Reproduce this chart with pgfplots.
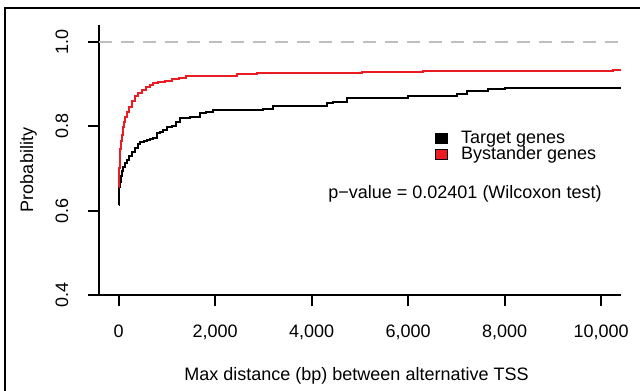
\documentclass[border=0pt]{standalone}
\usepackage{pgfplots}
\pgfplotsset{compat=1.18}
\usepackage{fontspec}
\setmainfont{Liberation Sans}
\definecolor{rred}{RGB}{235,28,36}
\definecolor{rgray}{RGB}{190,190,190}
\begin{document}
\fontsize{18bp}{21bp}\selectfont
\begin{tikzpicture}[x=1bp,y=1bp]
\useasboundingbox (0,0) rectangle (640,390);
\draw[line width=1.3bp] (5,-10) -- (5,382) -- (650,382);
\begin{axis}[
 at={(99bp,95bp)}, anchor=south west, scale only axis, width=522bp, height=270bp,
 xmin=-408, xmax=10410, ymin=0.4, ymax=1.04,
 scaled x ticks=false, scaled y ticks=false,
 axis lines*=left, axis line style={line width=2bp},
 tick align=outside, major tick length=11bp, tick style={line width=2bp, black},
 xtick={0,2000,4000,6000,8000,10000},
 xticklabels={0,{2,000},{4,000},{6,000},{8,000},{10,000}},
 ytick={0.4,0.6,0.8,1.0}, yticklabels={0.4,0.6,0.8,1.0},
 xticklabel style={anchor=base, yshift=-31bp},
 yticklabel style={xshift=-20bp, rotate=90, anchor=base},
 xlabel={Max distance (bp) between alternative TSS},
 xlabel style={at={(axis description cs:0.4933,-0.3174)}, anchor=base, inner sep=0pt},
 ylabel={Probability},
 ylabel style={at={(axis description cs:-0.1264,0.463)}, anchor=base, rotate=0, inner sep=0pt},
 legend style={at={(axis description cs:0.6437,0.6074)}, anchor=north west, draw=none, fill=none, inner sep=0pt, row sep=0pt, column sep=0pt, nodes={inner sep=0pt}},
 legend cell align=left,
]
\addplot[rgray, line width=2bp, dash pattern=on 13bp off 9bp, forget plot] coordinates {(-408,1) (10410,1)};
\addplot[black, line width=2bp, const plot, legend image code/.code={\draw[fill=black, draw=black, line width=0.8bp] (0bp,-5bp) rectangle (11.5bp,5bp); \path (24.5bp,0bp);}] coordinates {
(0,0.613) (8,0.635) (15,0.655) (27,0.668) (45,0.683) (70,0.695) (95,0.704) (130,0.712) (166,0.720) (210,0.730) (270,0.740) (330,0.748) (406,0.758) (450,0.762) (520,0.766) (580,0.768) (650,0.770) (717,0.772) (788,0.783) (860,0.786) (925,0.791) (995,0.799) (1100,0.801) (1180,0.810) (1271,0.819) (1478,0.823) (1685,0.831) (1800,0.834) (1961,0.838) (2998,0.840) (3205,0.847) (4312,0.855) (4450,0.858) (4727,0.866) (6004,0.872) (7007,0.877) (7214,0.884) (7662,0.888) (8008,0.891) (10400,0.891)
};
\addlegendentry{Target genes}
\addplot[rred, line width=2bp, const plot, legend image code/.code={\draw[fill=rred, draw=black, line width=0.8bp] (0bp,-5bp) rectangle (11.5bp,5bp); \path (24.5bp,0bp);}] coordinates {
(0,0.657) (5,0.680) (10,0.700) (20,0.725) (30,0.745) (45,0.765) (60,0.780) (80,0.798) (100,0.810) (130,0.822) (170,0.833) (210,0.845) (270,0.860) (330,0.872) (406,0.880) (480,0.887) (560,0.892) (640,0.897) (717,0.902) (820,0.905) (950,0.907) (1100,0.911) (1250,0.915) (1400,0.918) (1700,0.919) (2000,0.920) (2450,0.923) (2860,0.927) (5040,0.928) (6310,0.930) (10050,0.931) (10250,0.933) (10400,0.934)
};
\addlegendentry{Bystander genes}
\node[anchor=base] at (axis description cs:0.7011,0.3585) {p\textminus value = 0.02401 (Wilcoxon test)};
\end{axis}
\end{tikzpicture}
\end{document}
